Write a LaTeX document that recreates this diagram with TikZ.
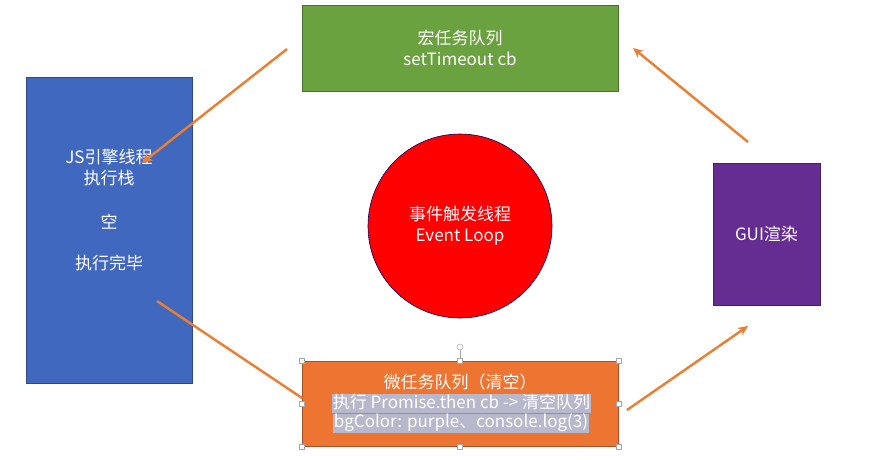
\documentclass[tikz,border=0pt]{standalone}
\usepackage{fontspec}
\setmainfont{Noto Sans CJK SC}
\usetikzlibrary{arrows.meta, positioning}
\usepackage{xcolor}
\definecolor{macrogreen}{HTML}{6AA23F}
\definecolor{stackblue}{HTML}{4068BF}
\definecolor{guipurple}{HTML}{652D91}
\definecolor{loopred}{HTML}{FF0000}
\definecolor{microorange}{HTML}{ED7531}
\definecolor{arroworange}{HTML}{ED7D31}
\definecolor{selgray}{HTML}{B8B8CC}

\begin{document}
\begin{tikzpicture}[
    x=1pt, y=-1pt,
    box/.style={rectangle, draw=#1!70!black, fill=#1, line width=0.6pt, inner sep=0pt},
    txt/.style={text=white, font=\fontsize{17}{21.5}\selectfont, align=center, inner sep=0pt},
    sel/.style={txt, fill=selgray, inner xsep=1pt, inner ysep=0pt, text height=14pt, text depth=5pt},
    handle/.style={rectangle, draw=gray!70, fill=white, line width=0.5pt, minimum size=5pt, inner sep=0pt},
    arr/.style={-{Stealth[length=10pt, width=9pt]}, arroworange, line width=2.4pt},
    line/.style={arroworange, line width=2.4pt}
]
\useasboundingbox (0,0) rectangle (872,459);

\node[box=macrogreen, minimum width=316pt, minimum height=86pt, txt] (macro) at (460,48) {宏任务队列\\setTimeout cb};
\node[box=stackblue, minimum width=166pt, minimum height=306pt] (stack) at (109,230) {};
\node[txt] (stacktxt) at (109,210) {JS引擎线程\\执行栈\\[22pt]空\\[20pt]执行完毕};
\node[box=guipurple, minimum width=107pt, minimum height=142pt, txt] (gui) at (766.5,234) {GUI渲染};
\node[circle, draw=blue!40!black, fill=loopred, line width=0.6pt, minimum size=184pt, txt] (loop) at (460,226) {事件触发线程\\Event Loop};

% micro task queue, shown selected
\node[box=microorange, minimum width=316pt, minimum height=85pt] (micro) at (460,403.5) {};
\node[txt] (microtitle) at (460,382) {微任务队列（清空）};
\node[sel] (microrun) at (461.5,403.5) {执行 Promise.then cb -> 清空队列};
\node[sel] (microlog) at (461,423) {bgColor: purple、console.log(3)};

\node[circle, draw=gray!70, fill=white, line width=0.5pt, minimum size=6pt, inner sep=0pt] (rot) at (460,347) {};
\draw[gray!70, line width=0.5pt] (rot) -- (micro.north);
\foreach \p/\n in {north west/nw, north/n, north east/ne, east/e, south east/se, south/s, south west/sw, west/w}
    \node[handle] (h\n) at (micro.\p) {};

% arrows
\coordinate (a1s) at (287,49);
\coordinate (a1e) at (142,163);
\coordinate (a2s) at (157,301);
\coordinate (a2e) at (302,398);
\coordinate (a3s) at (627,410);
\coordinate (a3e) at (748,326);
\coordinate (a4s) at (748,142);
\coordinate (a4e) at (633,48);

\draw[arr] (a1s) -- (a1e);
\draw[line] (a2s) -- (a2e);
\draw[arr] (a3s) -- (a3e);
\draw[arr] (a4s) -- (a4e);
\end{tikzpicture}
\end{document}
